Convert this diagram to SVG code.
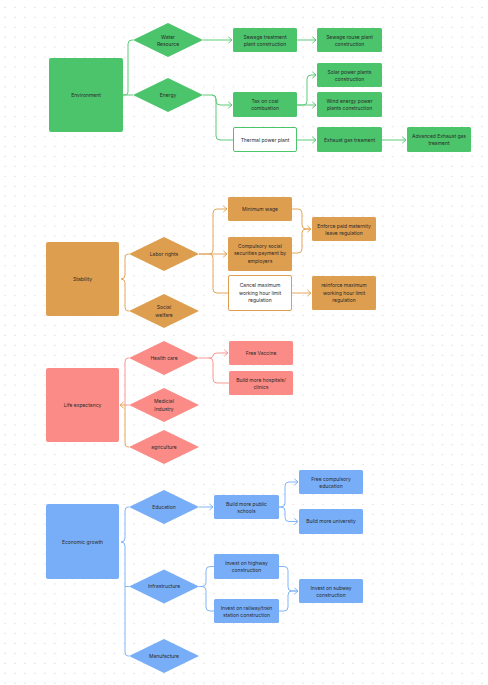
<svg xmlns="http://www.w3.org/2000/svg" width="488" height="685" viewBox="0 0 488 685">
<defs>
<pattern id="dots" x="0" y="0" width="9.94" height="9.94" patternUnits="userSpaceOnUse">
<rect x="4.5" y="6.8" width="1" height="1" fill="#c4c4c4"/>
</pattern>
<marker id="aG" markerUnits="userSpaceOnUse" markerWidth="6" markerHeight="8" refX="4.5" refY="4" orient="auto"><path d="M0.8,0.8 L4.5,4 L0.8,7.2" fill="none" stroke="#5fcb7b" stroke-width="1"/></marker>
<marker id="aO" markerUnits="userSpaceOnUse" markerWidth="6" markerHeight="8" refX="4.5" refY="4" orient="auto"><path d="M0.8,0.8 L4.5,4 L0.8,7.2" fill="none" stroke="#e2a75c" stroke-width="1"/></marker>
<marker id="aS" markerUnits="userSpaceOnUse" markerWidth="6" markerHeight="8" refX="4.5" refY="4" orient="auto"><path d="M0.8,0.8 L4.5,4 L0.8,7.2" fill="none" stroke="#fb9893" stroke-width="1"/></marker>
<marker id="aB" markerUnits="userSpaceOnUse" markerWidth="6" markerHeight="8" refX="4.5" refY="4" orient="auto"><path d="M0.8,0.8 L4.5,4 L0.8,7.2" fill="none" stroke="#82b5f8" stroke-width="1"/></marker>
</defs>
<style>
text{font-family:Inter,"Liberation Sans",sans-serif;font-size:5px;fill:#2a2a2a;text-anchor:middle}
.g{fill:#4cc46c}
.o{fill:#de9e4f}
.s{fill:#fa8b86}
.b{fill:#78aef8}
.gw{fill:#fff;stroke:#4cc46c;stroke-width:1}
.ow{fill:#fff;stroke:#de9e4f;stroke-width:1}
.c{fill:none;stroke-width:1}
.cg{stroke:#5fcb7b}
.co{stroke:#e2a75c}
.cs{stroke:#fb9893}
.cb{stroke:#82b5f8}
</style>
<rect width="488" height="685" fill="#fff"/>
<rect width="488" height="685" fill="url(#dots)"/>

<g id="connectors">
<!-- Environment -->
<path class="c cg" d="M123,95 H125 Q128,95 128,92 V44 Q128,40 132,40 H133"/>
<path class="c cg" d="M123,95 H133"/>
<path class="c cg" d="M203,40 H232" marker-end="url(#aG)"/>
<path class="c cg" d="M297,40 H316" marker-end="url(#aG)"/>
<path class="c cg" d="M203,95 H212 Q216,95 216,99 V101 Q216,105 220,105 H232" marker-end="url(#aG)"/>
<path class="c cg" d="M212,95 Q216,95 216,99 V136 Q216,140 220,140 H233"/>
<path class="c cg" d="M297,105 H303 Q307,105 307,101 V79 Q307,75 311,75 H316" marker-end="url(#aG)"/>
<path class="c cg" d="M297,105 H316" marker-end="url(#aG)"/>
<path class="c cg" d="M297,140 H316" marker-end="url(#aG)"/>
<path class="c cg" d="M382,140 H406" marker-end="url(#aG)"/>
<!-- Stability -->
<path class="c co" d="M129,254 H128 Q125,254 125,258 V275 Q125,279 121,279"/>
<path class="c co" d="M129,311 H128 Q125,311 125,307 V283 Q125,279 121,279"/>
<path class="c co" d="M199,254 H209 Q213,254 213,250 V213 Q213,209 217,209 H227" marker-end="url(#aO)"/>
<path class="c co" d="M199,254 H227" marker-end="url(#aO)"/>
<path class="c co" d="M209,254 Q213,254 213,258 V289 Q213,293 217,293 H228"/>
<path class="c co" d="M292,209 H298 Q302,209 302,213 V225 Q302,229 306,229 H311" marker-end="url(#aO)"/>
<path class="c co" d="M292,253 H298 Q302,253 302,249 V233 Q302,229 306,229 H311"/>
<path class="c co" d="M292,293 H311" marker-end="url(#aO)"/>
<!-- Life expectancy -->
<path class="c cs" d="M129,358 H128 Q125,358 125,362 V405"/>
<path class="c cs" d="M129,405 H125"/>
<path class="c co" d="M129,447 H128 Q125,447 125,443 V405 H120" marker-end="url(#aO)"/>
<path class="c cs" d="M199,358 H209 Q213,358 213,356 Q213,353 217,353 H228" marker-end="url(#aS)"/>
<path class="c cs" d="M209,358 Q213,358 213,362 V379 Q213,383 217,383 H229"/>
<!-- Economic growth -->
<path class="c cb" d="M129,507 H128 Q125,507 125,511 V538 Q125,542 121,542"/>
<path class="c cb" d="M129,656 H128 Q125,656 125,652 V546 Q125,542 121,542"/>
<path class="c cb" d="M129,586.5 H125"/>
<path class="c cb" d="M199,507 H213" marker-end="url(#aB)"/>
<path class="c cb" d="M279,507 H281 Q285,507 285,503 V486 Q285,482 289,482 H298" marker-end="url(#aB)"/>
<path class="c cb" d="M279,507 H281 Q285,507 285,511 V517.5 Q285,521.5 289,521.5 H298" marker-end="url(#aB)"/>
<path class="c cb" d="M199,586.5 H202 Q206,586.5 206,582.5 V570.5 Q206,566.5 210,566.5 H214"/>
<path class="c cb" d="M199,586.5 H202 Q206,586.5 206,590.5 V607 Q206,611 210,611 H214"/>
<path class="c cb" d="M279,566.5 H284 Q288,566.5 288,570.5 V587 Q288,591 292,591 H298" marker-end="url(#aB)"/>
<path class="c cb" d="M279,611 H284 Q288,611 288,607 V595 Q288,591 292,591 H298"/>
</g>

<!-- Environment section -->
<g id="environment"><rect class="g" x="49" y="58" width="74" height="74" rx="2"/><text x="86" y="96.8">Environment</text></g>
<g id="water-resource"><polygon class="g" points="133,40 168,23 203,40 168,57"/><text x="168" y="38.5">Water</text><text x="168" y="45.8">Resource</text></g>
<g id="energy"><polygon class="g" points="133,95 168,78 203,95 168,112"/><text x="168" y="96.8">Energy</text></g>
<g id="sewage-treatment"><rect class="g" x="233" y="28" width="64" height="24" rx="1.5"/><text x="265" y="38.5">Sewage treatment</text><text x="265" y="46">plant construction</text></g>
<g id="sewage-reuse"><rect class="g" x="317" y="28" width="65" height="24" rx="1.5"/><text x="349.5" y="38.5">Sewage rouse plant</text><text x="349.5" y="46">construction</text></g>
<g id="tax-coal"><rect class="g" x="233" y="92" width="64" height="25" rx="1.5"/><text x="265" y="102.8">Tax on coal</text><text x="265" y="110.3">combustion</text></g>
<g id="solar"><rect class="g" x="317" y="63" width="65" height="24" rx="1.5"/><text x="349.5" y="73.5">Solar power plants</text><text x="349.5" y="81">construction</text></g>
<g id="wind"><rect class="g" x="317" y="92" width="65" height="25" rx="1.5"/><text x="349.5" y="102.8">Wind energy power</text><text x="349.5" y="110.3">plants construction</text></g>
<g id="thermal"><rect class="gw" x="233.5" y="127.5" width="63" height="24" rx="1.5"/><text x="265" y="141.5">Thermal power plant</text></g>
<g id="exhaust"><rect class="g" x="317" y="127" width="65" height="25" rx="1.5"/><text x="349.5" y="141.5">Exhaust gas treament</text></g>
<g id="advanced-exhaust"><rect class="g" x="407" y="127" width="64" height="25" rx="1.5"/><text x="439" y="137.8">Advanced Exhaust gas</text><text x="439" y="145.3">treament</text></g>

<!-- Stability section -->
<g id="stability"><rect class="o" x="46" y="242" width="73" height="74" rx="2"/><text x="82.5" y="280.8">Stability</text></g>
<g id="labor-rights"><polygon class="o" points="129,254 164,237 199,254 164,271"/><text x="164" y="255.8">Labor rights</text></g>
<g id="social-welfare"><polygon class="o" points="129,311 164,294 199,311 164,328"/><text x="164" y="309.3">Social</text><text x="164" y="316.6">welfare</text></g>
<g id="minimum-wage"><rect class="o" x="228" y="197" width="64" height="24" rx="1.5"/><text x="260" y="210.8">Minimum wage</text></g>
<g id="compulsory"><rect class="o" x="228" y="237" width="64" height="34" rx="1.5"/><text x="260" y="247.5">Compulsory social</text><text x="260" y="255">securities payment by</text><text x="260" y="262.5">employers</text></g>
<g id="cancel-max"><rect class="ow" x="228.5" y="275.5" width="63" height="35" rx="1.5"/><text x="260" y="287">Cancel maximum</text><text x="260" y="294.5">working hour limit</text><text x="260" y="302">regulation</text></g>
<g id="enforce-maternity"><rect class="o" x="312" y="217" width="64" height="24" rx="1.5"/><text x="344" y="227.5">Enforce paid maternity</text><text x="344" y="235">leave regulation</text></g>
<g id="reinforce-max"><rect class="o" x="312" y="276" width="64" height="34" rx="1.5"/><text x="344" y="287">reinforce maximum</text><text x="344" y="294.5">working hour limit</text><text x="344" y="302">regulation</text></g>

<!-- Life expectancy section -->
<g id="life-expectancy"><rect class="s" x="46" y="368" width="73" height="74" rx="2"/><text x="82.5" y="406.8">Life expectancy</text></g>
<g id="health-care"><polygon class="s" points="129,358 164,341 199,358 164,375"/><text x="164" y="359.8">Health care</text></g>
<g id="medicial-industry"><polygon class="s" points="129,405 164,388 199,405 164,422"/><text x="164" y="403.3">Medicial</text><text x="164" y="410.6">Industry</text></g>
<g id="agriculture"><polygon class="s" points="129,447 164,430 199,447 164,464"/><text x="164" y="448.8">agriculture</text></g>
<g id="free-vaccine"><rect class="s" x="229" y="341" width="64" height="24" rx="1.5"/><text x="261" y="354.8">Free Vaccine</text></g>
<g id="hospitals"><rect class="s" x="229" y="371" width="64" height="24" rx="1.5"/><text x="261" y="381.5">Build more hospitals/</text><text x="261" y="389">clinics</text></g>

<!-- Economic growth section -->
<g id="economic-growth"><rect class="b" x="46" y="504" width="73" height="75" rx="2"/><text x="82.5" y="543.5">Economic growth</text></g>
<g id="education"><polygon class="b" points="129,507 164,490 199,507 164,524"/><text x="164" y="508.8">Education</text></g>
<g id="infrastructure"><polygon class="b" points="129,586.5 164,569.5 199,586.5 164,603.5"/><text x="164" y="588.3">Infrastructure</text></g>
<g id="manufacture"><polygon class="b" points="129,656 164,639 199,656 164,673"/><text x="164" y="657.8">Manufacture</text></g>
<g id="public-schools"><rect class="b" x="214" y="495" width="65" height="24" rx="1.5"/><text x="246.5" y="505.5">Build more public</text><text x="246.5" y="513">schools</text></g>
<g id="free-compulsory"><rect class="b" x="299" y="470" width="64" height="24" rx="1.5"/><text x="331" y="480.5">Free compulsory</text><text x="331" y="488">education</text></g>
<g id="university"><rect class="b" x="299" y="509" width="64" height="25" rx="1.5"/><text x="331" y="523.3">Build more university</text></g>
<g id="highway"><rect class="b" x="214" y="554" width="65" height="25" rx="1.5"/><text x="246.5" y="564.8">Invest on highway</text><text x="246.5" y="572.3">construction</text></g>
<g id="railway"><rect class="b" x="214" y="599" width="65" height="24" rx="1.5"/><text x="246.5" y="609.5">Invest on railway/train</text><text x="246.5" y="617">station construction</text></g>
<g id="subway"><rect class="b" x="299" y="579" width="64" height="24" rx="1.5"/><text x="331" y="589.5">Invest on subway</text><text x="331" y="597">construction</text></g>
</svg>
